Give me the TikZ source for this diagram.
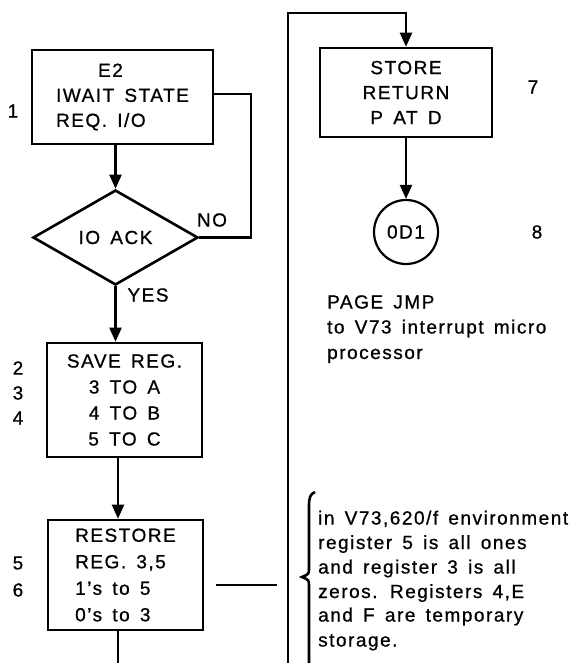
\documentclass[tikz,border=0pt]{standalone}
\usepackage{fontspec}
\setmainfont[LetterSpace=8,WordSpace=1.5,FakeBold=0.8]{Liberation Sans}
\usetikzlibrary{arrows.meta,shapes.geometric}
\begin{document}
\begin{tikzpicture}[x=1pt,y=-1pt,
  txt/.style={font=\fontsize{19}{25}\selectfont, inner sep=0pt},
  boxnode/.style={txt, draw, line width=2.6pt, inner sep=0pt},
  conn/.style={line width=2.2pt},
  arr/.style={conn, -{Triangle[width=12pt,length=14pt]}}
]
\useasboundingbox (0,0) rectangle (578,663);
\fill[white] (0,0) rectangle (578,663);

% left column
\node[boxnode, minimum width=181pt, minimum height=94pt, align=left] (box1) at (122.5,97)
  {\hspace*{42pt}E2\\IWAIT STATE\\REQ. I/O};
\node[txt, draw, line width=2.6pt, shape=diamond, minimum width=165pt, minimum height=95pt, aspect=1.74] (dia) at (115.5,237.5) {IO ACK};
\node[boxnode, minimum width=155pt, minimum height=114pt, align=center,
  font=\fontsize{19}{26}\selectfont] (save) at (124.5,400)
  {SAVE REG.\\3 TO A\\4 TO B\\5 TO C};
\node[boxnode, minimum width=155pt, minimum height=110pt, align=left,
  font=\fontsize{19}{26.5}\selectfont] (rest) at (125.5,575)
  {RESTORE\\REG. 3,5\\1's to 5\\0's to 3};

\node[txt] (n1) at (13,111) {1};
\node[txt] (n2) at (18,368) {2};
\node[txt] (n3) at (18,393) {3};
\node[txt] (n4) at (18,418) {4};
\node[txt] (n5) at (18,563) {5};
\node[txt] (n6) at (18,590) {6};

\node[txt] (no) at (212,220) {NO};
\node[txt] (yes) at (148,295) {YES};

\draw[arr] (box1.south -| dia.north) -- (dia.north);
\coordinate (noc) at (251,94);
\draw[conn] (dia.east) -| (noc) -- (noc -| box1.east);
\draw[arr] (dia.south) -- (dia.south |- save.north);
\coordinate (sr) at (118,457);
\draw[arr] (save.south -| sr) -- (rest.north -| sr);
\coordinate (rb) at (118,663);
\draw[conn] (rest.south -| rb) -- (rb);
\coordinate (s1) at (216,585);
\coordinate (s2) at (277,585);
\draw[conn] (s1) -- (s2);

% right column
\node[boxnode, minimum width=172pt, minimum height=89pt, align=center] (store) at (406,92.5)
  {STORE\\RETURN\\P AT D};
\node[txt, draw, circle, line width=2.2pt, minimum size=64pt] (circ) at (406,232) {0D1};
\node[txt] (n7) at (533,87) {7};
\node[txt] (n8) at (537,232) {8};

\coordinate (lb) at (288,663);
\coordinate (lt) at (288,13);
\draw[arr] (lb) -- (lt) -| (store.north);
\draw[arr] (store.south) -- (circ.north);

\node[txt, anchor=base west] (p1) at (327,308.5) {PAGE JMP};
\node[txt, anchor=base west] (p2) at (327,333.5) {to V73 interrupt micro};
\node[txt, anchor=base west] (p3) at (327,359) {processor};

% brace
\draw[line width=2.6pt] (315,492) .. controls (310,494) and (309,498) .. (309,506) -- (309,568)
  .. controls (309,574) .. (302,577) .. controls (309,580) .. (309,586) -- (309,663);

\node[txt, anchor=base west] (t1) at (318,524.5) {in V73,620/f environment};
\node[txt, anchor=base west] (t2) at (318,549) {register 5 is all ones};
\node[txt, anchor=base west] (t3) at (318,573.5) {and register 3 is all};
\node[txt, anchor=base west] (t4) at (318,598) {zeros. Registers 4,E};
\node[txt, anchor=base west] (t5) at (318,621.5) {and F are temporary};
\node[txt, anchor=base west] (t6) at (318,646.5) {storage.};
\end{tikzpicture}
\end{document}
